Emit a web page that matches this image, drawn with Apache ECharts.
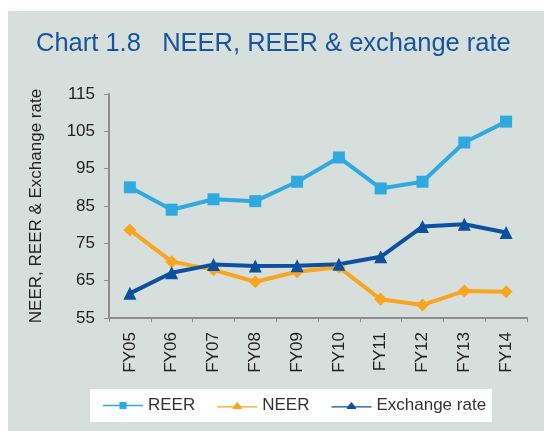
<!DOCTYPE html>
<html>
<head>
    <meta charset="utf-8">
    <script src="https://cdn.jsdelivr.net/npm/echarts@6/dist/echarts.min.js"></script>
    <title>Chart 1.8</title>
    <style>
        html, body { margin: 0; padding: 0; background: #fff; }
        #main { width: 544px; height: 431px; }
    </style>
</head>
<body>
<div id="main"></div>
<script>
    // data
    var years = ['FY05', 'FY06', 'FY07', 'FY08', 'FY09', 'FY10', 'FY11', 'FY12', 'FY13', 'FY14'];
    var reer = [90.0, 84.0, 86.8, 86.3, 91.5, 98.0, 89.7, 91.5, 102.0, 107.6];
    var neer = [78.6, 70.1, 67.9, 64.7, 67.4, 68.6, 60.0, 58.5, 62.2, 62.0];
    var exRate = [61.6, 67.1, 69.3, 68.9, 69.0, 69.4, 71.4, 79.5, 80.1, 77.9];

    var font = 'Liberation Sans, Arial, sans-serif';
    // legend icons: line with a small marker on it
    var iconSquare = 'path://M0,4.4L14,4.4L14,2L20,2L20,4.4L34,4.4L34,5.6L20,5.6L20,8L14,8L14,5.6L0,5.6Z';
    var iconTri = 'path://M0,4.6L14,4.6L17,1L20,4.6L34,4.6L34,5.8L20.5,5.8L21,7L13,7L13.5,5.8L0,5.8Z';

    var chart = echarts.init(document.getElementById('main'));
    var option = {
        backgroundColor: '#ffffff',
        animation: false,
        textStyle: { fontFamily: font },
        graphic: [{
            type: 'rect',
            z: -10,
            shape: { x: 8, y: 11, width: 536, height: 420 },
            style: { fill: '#d7dfdc' }
        }],
        title: {
            text: 'Chart 1.8   NEER, REER & exchange rate',
            left: 31,
            top: 26,
            textStyle: { color: '#1554a0', fontSize: 25.5, fontWeight: 'normal', fontFamily: font }
        },
        legend: {
            left: 90,
            top: 389,
            backgroundColor: '#ffffff',
            padding: [8, 6, 8, 13],
            itemWidth: 40,
            itemHeight: 10,
            itemGap: 22,
            textStyle: { color: '#333', fontSize: 17, fontFamily: font },
            data: [
                { name: 'REER', icon: iconSquare },
                { name: 'NEER', icon: iconTri },
                { name: 'Exchange rate', icon: iconTri }
            ]
        },
        grid: { left: 109, right: 17, top: 94, bottom: 113 },
        xAxis: {
            type: 'category',
            data: years,
            boundaryGap: true,
            axisLine: { lineStyle: { color: '#8c8c8c', width: 2 } },
            axisTick: { show: true, length: 4, lineStyle: { color: '#8c8c8c' } },
            axisLabel: { rotate: 90, color: '#222', fontSize: 17, margin: 14, fontFamily: font }
        },
        yAxis: {
            type: 'value',
            min: 55,
            max: 115,
            interval: 10,
            name: 'NEER, REER & Exchange rate',
            nameLocation: 'middle',
            nameGap: 64,
            nameTextStyle: { color: '#222', fontSize: 17, fontFamily: font },
            splitLine: { show: false },
            axisLine: { show: true, lineStyle: { color: '#8c8c8c', width: 2 } },
            axisTick: { show: true, length: 5, lineStyle: { color: '#8c8c8c' } },
            axisLabel: { color: '#222', fontSize: 17, margin: 14, fontFamily: font }
        },
        series: [
            {
                name: 'REER', type: 'line', data: reer,
                symbol: 'rect', symbolSize: 12,
                lineStyle: { color: '#2eaae1', width: 4 },
                itemStyle: { color: '#2eaae1' }
            },
            {
                name: 'NEER', type: 'line', data: neer,
                symbol: 'diamond', symbolSize: 13,
                lineStyle: { color: '#f9a51f', width: 4 },
                itemStyle: { color: '#f9a51f' }
            },
            {
                name: 'Exchange rate', type: 'line', data: exRate,
                symbol: 'triangle', symbolSize: 13,
                lineStyle: { color: '#0b51a0', width: 4 },
                itemStyle: { color: '#0b51a0' }
            }
        ]
    };
    chart.setOption(option);
</script>
</body>
</html>
